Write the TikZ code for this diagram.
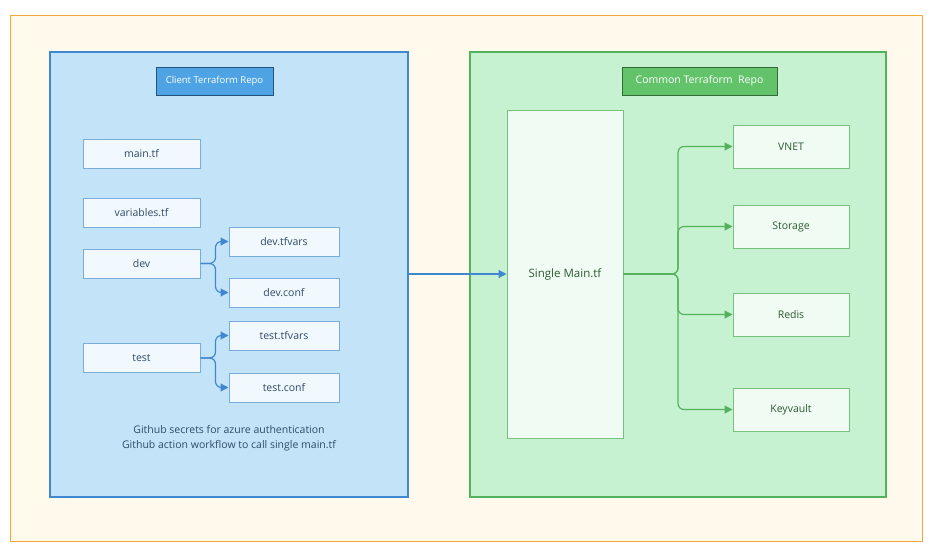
\documentclass[tikz,border=0pt]{standalone}
\usepackage{fontspec}
\setmainfont{Open Sans}
\usetikzlibrary{positioning,arrows.meta}
\definecolor{outerfill}{HTML}{FFFAEB}
\definecolor{outerline}{HTML}{F2A93B}
\definecolor{bluefill}{HTML}{C3E4F8}
\definecolor{blueline}{HTML}{3F88CF}
\definecolor{bluetitle}{HTML}{4DA3E3}
\definecolor{filefill}{HTML}{F1F8FE}
\definecolor{greenfill}{HTML}{C6F2D2}
\definecolor{greenline}{HTML}{55B25C}
\definecolor{greentitle}{HTML}{62C36A}
\definecolor{modfill}{HTML}{F0FBF3}
\definecolor{darktext}{HTML}{2F4B66}
\definecolor{greentext}{HTML}{2D5A33}
\tikzset{
  bfile/.style={draw=blueline!70, fill=filefill, line width=1pt, minimum width=117pt, minimum height=29pt, text=darktext, font=\fontsize{10.5}{12}\selectfont},
  bsub/.style={bfile, minimum width=110pt},
  gmod/.style={draw=greenline!80, fill=modfill, line width=1pt, minimum width=116pt, minimum height=43pt, text=greentext, font=\fontsize{10.5}{12}\selectfont},
  barrow/.style={draw=blueline, line width=1.2pt, rounded corners=6pt, -{Triangle[length=8pt,width=8pt]}},
  garrow/.style={draw=greenline, line width=1.2pt, rounded corners=6pt, -{Triangle[length=8pt,width=8pt]}}
}
\begin{document}
\begin{tikzpicture}[x=1pt,y=-1pt]
\useasboundingbox (0,0) rectangle (936,547);
\fill[white] (0,0) rectangle (936,547);
% --- outer frame ---
\draw[outerline, fill=outerfill, line width=1pt] (10,15) rectangle (922,541);
% --- Client repo ---
\draw[blueline, fill=bluefill, line width=1.2pt] (50,52) rectangle (408,497);
\node[draw=blueline!60!black, fill=bluetitle, text=white, font=\fontsize{9.5}{11}\selectfont, minimum width=117pt, minimum height=28pt] (ctitle) at (214.5,81) {Client Terraform Repo};
\node[bfile] (main) at (141.5,154) {main.tf};
\node[bfile] (vars) at (141.5,212.5) {variables.tf};
\node[bfile] (dev) at (141.5,263.5) {dev};
\node[bsub] (devtf) at (284,241.5) {dev.tfvars};
\node[bsub] (devconf) at (284,292.5) {dev.conf};
\node[bfile] (test) at (141.5,358) {test};
\node[bsub] (testtf) at (284,335.5) {test.tfvars};
\node[bsub] (testconf) at (284,387.5) {test.conf};
\node[align=center, text=darktext, font=\fontsize{10.5}{15}\selectfont] (note) at (229,438.5) {Github secrets for azure authentication\\Github action workflow to call single main.tf};
\draw[barrow] (dev.east) -- ++(15,0) |- (devtf.west);
\draw[barrow] (dev.east) -- ++(15,0) |- (devconf.west);
\draw[barrow] (test.east) -- ++(15,0) |- (testtf.west);
\draw[barrow] (test.east) -- ++(15,0) |- (testconf.west);
% --- Common repo ---
\draw[greenline, fill=greenfill, line width=1.2pt] (470,52) rectangle (886,497);
\node[draw=greenline!60!black, fill=greentitle, text=white, font=\fontsize{10.5}{12}\selectfont, minimum width=155pt, minimum height=28pt] (gtitle) at (699.5,81) {Common Terraform~ Repo};
\node[draw=greenline!80, fill=modfill, line width=1pt, minimum width=116pt, minimum height=328pt, text=greentext, font=\fontsize{11.5}{13}\selectfont] (single) at (565,274) {Single Main.tf};
\node[gmod] (vnet) at (791,146.5) {VNET};
\node[gmod] (storage) at (791,226.5) {Storage};
\node[gmod] (redis) at (791,314.5) {Redis};
\node[gmod] (kv) at (791,409.5) {Keyvault};
\coordinate (fork) at (678,274);
\foreach \m in {vnet,storage,redis,kv}
  \draw[garrow] (single.east) -- (fork) |- (\m.west);
% --- link ---
\coordinate (clientout) at (408,274);
\draw[blueline, line width=1.2pt, -{Triangle[length=8pt,width=8pt]}] (clientout) -- (single.west);
\end{tikzpicture}
\end{document}
